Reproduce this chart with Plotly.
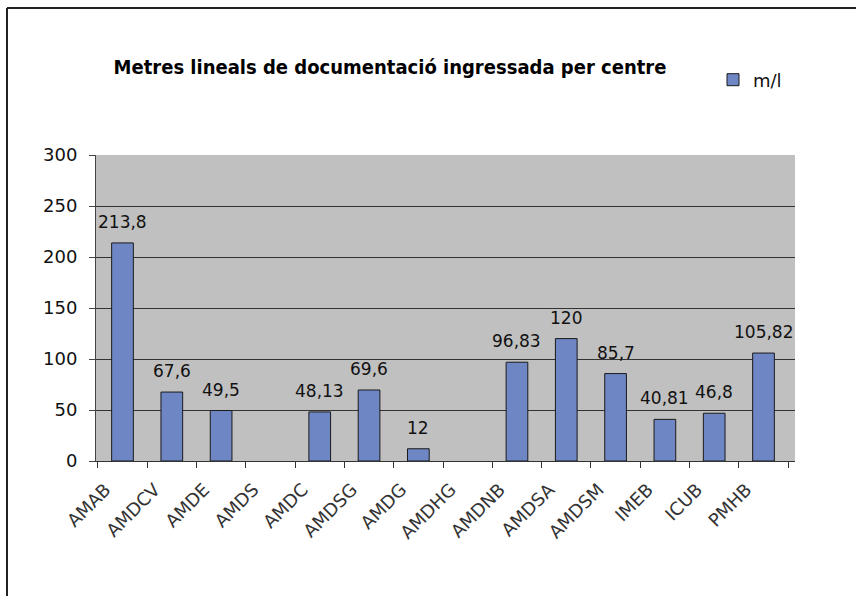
import plotly.graph_objects as go

categories = ["AMAB", "AMDCV", "AMDE", "AMDS", "AMDC", "AMDSG", "AMDG", "AMDHG",
              "AMDNB", "AMDSA", "AMDSM", "IMEB", "ICUB", "PMHB"]
values = [213.8, 67.6, 49.5, None, 48.13, 69.6, 12, None,
          96.83, 120, 85.7, 40.81, 46.8, 105.82]
series_name = "m/l"
title_text = "Metres lineals de documentació ingressada per centre"

fig = go.Figure()
fig.add_trace(go.Bar(
    x=categories, y=values, name=series_name,
    marker=dict(color="#6F86C4", line=dict(color="#1a1a1a", width=1)),
    showlegend=True,
))

for c, v in zip(categories, values):
    if v is None:
        continue
    fig.add_annotation(x=c, y=v, xref="x", yref="y", text=str(v).replace(".", ","),
                       showarrow=False, yanchor="bottom", xanchor="center", yshift=9,
                       font=dict(family="DejaVu Sans", size=17, color="#111"))

W, H = 856, 596
L, R, T, B = 96, 795, 155, 461
pw, ph = R - L, B - T

def px(x):
    return (x - L) / pw

def py(y):
    return (B - y) / ph

fig.update_layout(
    width=W, height=H,
    margin=dict(l=L, r=W - R, t=T, b=H - B, pad=0),
    paper_bgcolor="white", plot_bgcolor="#C0C0C0",
    bargap=0.56,
    font=dict(family="DejaVu Sans", size=14, color="#222"),
    title=dict(text="<b>" + title_text + "</b>", x=px(390), xref="paper",
               xanchor="center", y=1 - 67 / H, yanchor="middle",
               font=dict(family="DejaVu Sans Condensed", size=20, color="#000")),
    legend=dict(x=px(713), y=py(80), xref="paper", yref="paper",
                xanchor="left", yanchor="middle", bgcolor="rgba(0,0,0,0)",
                font=dict(family="DejaVu Sans", size=18, color="#111"),
                itemwidth=30, traceorder="normal"),
    xaxis=dict(type="category", tickangle=-45, showline=True, linecolor="#333",
               linewidth=1, ticks="outside", ticklen=6, tickcolor="#333",
               tickson="boundaries", showgrid=False,
               ticklabelstandoff=10, ticklabelshift=-17,
               tickfont=dict(family="DejaVu Sans", size=18, color="#333")),
    yaxis=dict(range=[0, 300], tickvals=[0, 50, 100, 150, 200, 250, 300],
               showline=True, linecolor="#444", linewidth=1, ticks="outside",
               ticklen=6, tickcolor="#444", showgrid=True, gridcolor="#333",
               gridwidth=1, zeroline=False, ticklabelstandoff=8,
               tickfont=dict(family="DejaVu Sans", size=18, color="#111")),
    shapes=[
        dict(type="line", xref="paper", yref="paper", x0=px(7), x1=px(860),
             y0=py(8), y1=py(8), line=dict(color="#222", width=2)),
        dict(type="line", xref="paper", yref="paper", x0=px(7), x1=px(7),
             y0=py(8), y1=py(600), line=dict(color="#222", width=2)),
    ],
)

fig.write_html("out.html", post_script="document.body.style.margin='0';",
               config={"displayModeBar": False})
